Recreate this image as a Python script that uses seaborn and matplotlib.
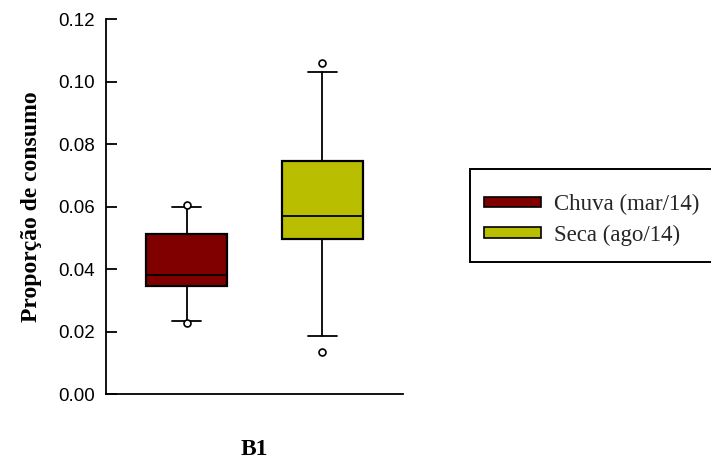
import matplotlib
matplotlib.use("Agg")
import matplotlib.pyplot as plt
from matplotlib.patches import Patch, Rectangle
import seaborn as sns

# ---- data ----
groups = ["Chuva (mar/14)", "Seca (ago/14)"]
q1 = [0.0347, 0.0497]
medians = [0.0382, 0.0572]
q3 = [0.0513, 0.0747]
whisker_low = [0.0235, 0.0188]
whisker_high = [0.0600, 0.1032]
fliers = [[0.0607, 0.0229], [0.1061, 0.0136]]
yticks = [0.00, 0.02, 0.04, 0.06, 0.08, 0.10, 0.12]
colors = ["#800000", "#B9BF00"]

sns.set_theme(style="ticks")
plt.rcParams["font.family"] = ["Liberation Sans", "DejaVu Sans"]

fig = plt.figure(figsize=(7.11, 4.61), dpi=100)
W, H = 711, 461
ax = fig.add_axes([105.7 / W, (H - 394.3) / H, (403 - 105.7) / W, 375 / H])

stats = []
for i, g in enumerate(groups):
    stats.append(dict(label=g, q1=q1[i], med=medians[i], q3=q3[i],
                      whislo=whisker_low[i], whishi=whisker_high[i],
                      fliers=fliers[i]))

palette = sns.color_palette(colors)
bp = ax.bxp(stats, positions=[0, 1], widths=0.6, capwidths=0.214,
            patch_artist=True, showfliers=True,
            boxprops=dict(edgecolor="black", linewidth=1.6),
            medianprops=dict(color="black", linewidth=1.3),
            whiskerprops=dict(color="black", linewidth=1.3),
            capprops=dict(color="black", linewidth=1.3),
            flierprops=dict(marker="o", markerfacecolor="white",
                            markeredgecolor="black", markersize=5,
                            markeredgewidth=1.2))
for patch, c in zip(bp["boxes"], palette):
    patch.set_facecolor(c)

ax.set_xlim(-0.598, 1.594)
ax.set_ylim(0, 0.12)
ax.set_yticks(yticks)
ax.set_yticklabels([f"{t:.2f}" for t in yticks], fontsize=13.5,
                   family="Liberation Sans")
ax.set_xticks([])
ax.tick_params(axis="y", direction="in", length=8, width=1.3,
               color="black", pad=7.5, labelcolor="black")
sns.despine(ax=ax)
for s in ["left", "bottom"]:
    ax.spines[s].set_color("black")
    ax.spines[s].set_linewidth(1.3)

ax.set_ylabel("Proporção de consumo", family="Liberation Serif",
              fontweight="bold", fontsize=17, labelpad=12, color="black")
ax.set_xlabel("B1", family="Liberation Serif", fontweight="bold",
              fontsize=17, labelpad=32, color="black")

# legend frame (box extends past the right edge of the figure)
frame = Rectangle((470 / W, 1 - 261.7 / H), 260 / W, 92.4 / H,
                  transform=fig.transFigure, facecolor="white",
                  edgecolor="black", linewidth=1.4, zorder=1)
fig.patches.append(frame)

handles = [Patch(facecolor=c, edgecolor="black", linewidth=1.2)
           for c in palette]
leg = fig.legend(handles, groups, loc="upper left",
                 bbox_to_anchor=(470 / W, 1 - 180.3 / H),
                 prop=dict(family="Liberation Serif", size=16.5),
                 frameon=False, borderpad=0.6,
                 handlelength=2.48, handleheight=0.35, handletextpad=0.6,
                 labelspacing=0.4, borderaxespad=0)
leg.set_zorder(2)

fig.savefig("out.png", dpi=100, facecolor="white")
